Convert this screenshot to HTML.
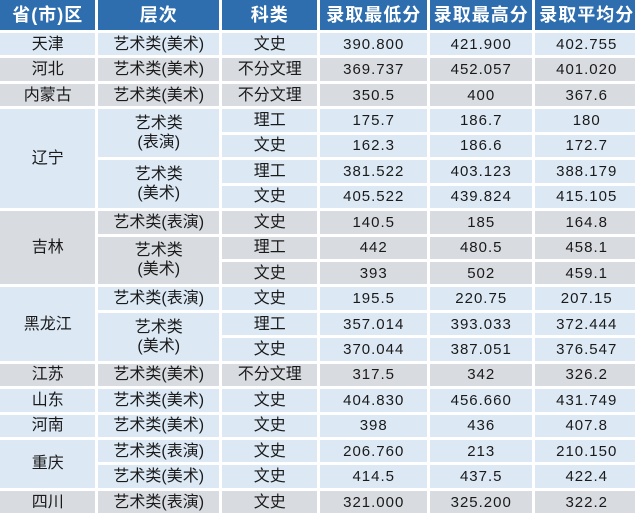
<!DOCTYPE html>
<html><head><meta charset="utf-8"><style>
html,body{margin:0;padding:0;background:#fff;width:635px;height:514px;overflow:hidden}
table{position:absolute;left:-3px;top:-3px;border-collapse:separate;border-spacing:3px;table-layout:fixed;width:644px;font-family:"Liberation Sans","Noto Sans CJK SC",sans-serif;color:#1a1a1a}
td,th{padding:0;text-align:center;vertical-align:middle;font-size:16px;line-height:19px;overflow:hidden;white-space:nowrap}
th{background:#2f6eae;color:#fff;font-size:18px;height:30px;font-weight:bold;letter-spacing:1px}
td{height:22.45px}
.b{background:#dce9f5}
.g{background:#d8dbe0}
.n{letter-spacing:1px;font-size:15px}
</style></head><body>
<table>
<colgroup><col style="width:95px"><col style="width:120px"><col style="width:95px"><col style="width:106px"><col style="width:102px"><col style="width:102px"></colgroup>
<tr><th>省(市)区</th><th>层次</th><th>科类</th><th>录取最低分</th><th>录取最高分</th><th>录取平均分</th></tr>
<tr class="b"><td>天津</td><td>艺术类(美术)</td><td>文史</td><td class="n">390.800</td><td class="n">421.900</td><td class="n">402.755</td></tr>
<tr class="g"><td>河北</td><td>艺术类(美术)</td><td>不分文理</td><td class="n">369.737</td><td class="n">452.057</td><td class="n">401.020</td></tr>
<tr class="g"><td>内蒙古</td><td>艺术类(美术)</td><td>不分文理</td><td class="n">350.5</td><td class="n">400</td><td class="n">367.6</td></tr>
<tr class="b"><td rowspan="4">辽宁</td><td rowspan="2">艺术类<br>(表演)</td><td>理工</td><td class="n">175.7</td><td class="n">186.7</td><td class="n">180</td></tr>
<tr class="b"><td>文史</td><td class="n">162.3</td><td class="n">186.6</td><td class="n">172.7</td></tr>
<tr class="b"><td rowspan="2">艺术类<br>(美术)</td><td>理工</td><td class="n">381.522</td><td class="n">403.123</td><td class="n">388.179</td></tr>
<tr class="b"><td>文史</td><td class="n">405.522</td><td class="n">439.824</td><td class="n">415.105</td></tr>
<tr class="g"><td rowspan="3">吉林</td><td>艺术类(表演)</td><td>文史</td><td class="n">140.5</td><td class="n">185</td><td class="n">164.8</td></tr>
<tr class="g"><td rowspan="2">艺术类<br>(美术)</td><td>理工</td><td class="n">442</td><td class="n">480.5</td><td class="n">458.1</td></tr>
<tr class="g"><td>文史</td><td class="n">393</td><td class="n">502</td><td class="n">459.1</td></tr>
<tr class="b"><td rowspan="3">黑龙江</td><td>艺术类(表演)</td><td>文史</td><td class="n">195.5</td><td class="n">220.75</td><td class="n">207.15</td></tr>
<tr class="b"><td rowspan="2">艺术类<br>(美术)</td><td>理工</td><td class="n">357.014</td><td class="n">393.033</td><td class="n">372.444</td></tr>
<tr class="b"><td>文史</td><td class="n">370.044</td><td class="n">387.051</td><td class="n">376.547</td></tr>
<tr class="g"><td>江苏</td><td>艺术类(美术)</td><td>不分文理</td><td class="n">317.5</td><td class="n">342</td><td class="n">326.2</td></tr>
<tr class="b"><td>山东</td><td>艺术类(美术)</td><td>文史</td><td class="n">404.830</td><td class="n">456.660</td><td class="n">431.749</td></tr>
<tr class="b"><td>河南</td><td>艺术类(美术)</td><td>文史</td><td class="n">398</td><td class="n">436</td><td class="n">407.8</td></tr>
<tr class="b"><td rowspan="2">重庆</td><td>艺术类(表演)</td><td>文史</td><td class="n">206.760</td><td class="n">213</td><td class="n">210.150</td></tr>
<tr class="b"><td>艺术类(美术)</td><td>文史</td><td class="n">414.5</td><td class="n">437.5</td><td class="n">422.4</td></tr>
<tr class="g"><td>四川</td><td>艺术类(表演)</td><td>文史</td><td class="n">321.000</td><td class="n">325.200</td><td class="n">322.2</td></tr>
</table>
</body></html>
